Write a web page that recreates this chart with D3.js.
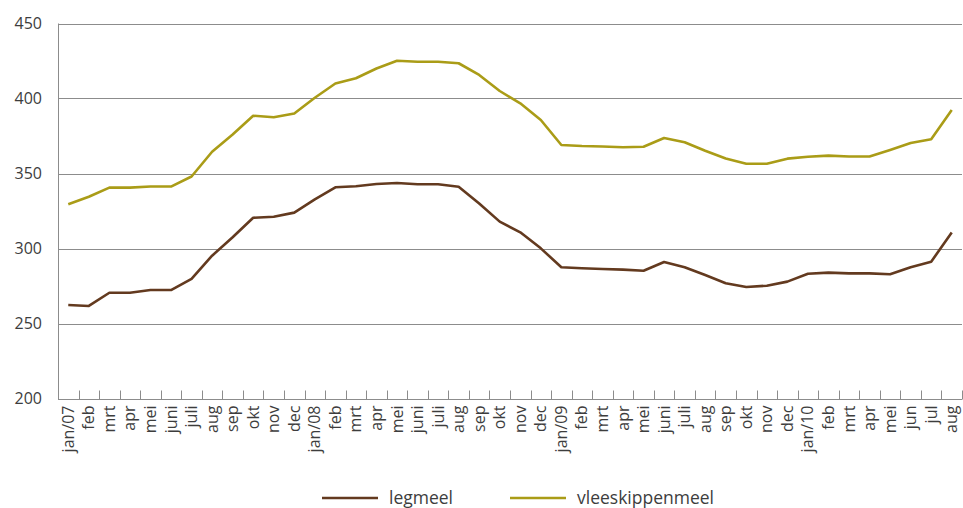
<!DOCTYPE html>
<html>
<head>
<meta charset="utf-8">
<script src="https://cdn.jsdelivr.net/npm/d3@7"></script>
<style>
  html, body { margin: 0; padding: 0; background: #fff; }
  svg { display: block; }
  text { font-family: "Open Sans", "DejaVu Sans", sans-serif; fill: #3d3d3d; }
</style>
</head>
<body>
<svg id="chart" width="963" height="508"></svg>
<script>
const months = ["jan/07","feb","mrt","apr","mei","juni","juli","aug","sep","okt","nov","dec",
  "jan/08","feb","mrt","apr","mei","juni","juli","aug","sep","okt","nov","dec",
  "jan/09","feb","mrt","apr","mei","juni","juli","aug","sep","okt","nov","dec",
  "jan/10","feb","mrt","apr","mei","jun","jul","aug"];
const legmeel = [262.3,261.7,270.5,270.5,272.3,272.3,279.7,295.2,307.5,320.5,321.2,323.9,
  332.8,340.8,341.5,343,343.7,342.8,342.8,341.2,330,317.9,310.8,300.1,
  287.5,286.8,286.3,285.9,285.2,291,287.5,282.3,276.8,274.3,275.2,277.9,
  283.2,283.9,283.4,283.4,282.8,287.5,291.2,310.6];
const vleeskippenmeel = [329.5,334.5,340.6,340.6,341.3,341.3,348,364.5,376,388.5,387.5,390,
  400.5,410,413.5,420,425.2,424.5,424.5,423.5,415.7,405,396.8,385.7,
  369,368.3,368,367.5,367.8,373.7,370.8,365.2,360,356.5,356.5,359.9,
  361.2,361.9,361.3,361.3,365.7,370.3,372.8,392.3];
const yTicks = [200,250,300,350,400,450];
const seriesNames = ["legmeel","vleeskippenmeel"];
const seriesColors = ["#633a1f","#aa9c17"];

const svg = d3.select("#chart");
const m = {left: 58, right: 1, top: 23.5, bottom: 109.5};
const W = 963, H = 508;
const x = d3.scaleBand().domain(d3.range(months.length)).range([m.left, W - m.right]);
const y = d3.scaleLinear().domain([200,450]).range([H - m.bottom, m.top]);

// gridlines
svg.append("g").selectAll("line").data(yTicks.filter(t => t > 200)).join("line")
  .attr("x1", m.left).attr("x2", W - m.right)
  .attr("y1", d => Math.round(y(d)) + 0.5).attr("y2", d => Math.round(y(d)) + 0.5)
  .attr("stroke", "#8c8c8c").attr("stroke-width", 1);

// y axis labels
svg.append("g").selectAll("text").data(yTicks).join("text")
  .attr("x", 42).attr("y", d => y(d)).attr("dy", "0.35em")
  .attr("text-anchor", "end").attr("font-size", 16).text(d => d);

// axes lines
const baseY = Math.round(y(200)) + 0.5;
svg.append("line").attr("x1", m.left + 0.5).attr("x2", m.left + 0.5)
  .attr("y1", m.top).attr("y2", baseY).attr("stroke", "#8c8c8c");
svg.append("line").attr("x1", m.left).attr("x2", W - m.right)
  .attr("y1", baseY).attr("y2", baseY).attr("stroke", "#8c8c8c");

// x ticks (between categories, pointing up)
const tickXs = d3.range(1, months.length + 1).map(i => m.left + i * x.step());
svg.append("g").selectAll("line").data(tickXs).join("line")
  .attr("x1", d => Math.round(d) + 0.5).attr("x2", d => Math.round(d) + 0.5)
  .attr("y1", baseY - 9).attr("y2", baseY).attr("stroke", "#8c8c8c");

// x labels
svg.append("g").selectAll("text").data(months).join("text")
  .attr("transform", (d, i) => `translate(${x(i) + x.bandwidth()/2 + 5.5},${baseY + 6}) rotate(-90)`)
  .attr("text-anchor", "end").attr("font-size", 16).text(d => d);

// lines
const line = d3.line().x((d, i) => x(i) + x.bandwidth()/2).y(d => y(d));
[legmeel, vleeskippenmeel].forEach((s, k) => {
  svg.append("path").datum(s).attr("d", line)
    .attr("fill", "none").attr("stroke", seriesColors[k]).attr("stroke-width", 2.6)
    .attr("stroke-linejoin", "round");
});

// legend
const legX = [322, 510];
seriesNames.forEach((n, k) => {
  svg.append("line").attr("x1", legX[k]).attr("x2", legX[k] + 56)
    .attr("y1", 498).attr("y2", 498).attr("stroke", seriesColors[k]).attr("stroke-width", 2.6);
  svg.append("text").attr("x", legX[k] + 67).attr("y", 498).attr("dy", "0.35em")
    .attr("font-size", 17.5).text(n);
});
</script>
</body>
</html>
